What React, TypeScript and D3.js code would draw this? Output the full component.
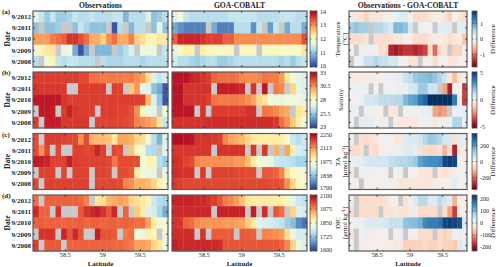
import React from 'react';
import * as d3 from 'd3';

const years = ['9/2012', '9/2011', '9/2010', '9/2009', '9/2008'];
const latCenters = [58.11, 58.18, 58.26, 58.33, 58.41, 58.48, 58.56, 58.63, 58.71, 58.78, 58.86, 58.93, 59.01, 59.08, 59.16, 59.23, 59.31, 59.38, 59.46, 59.53, 59.61, 59.68, 59.76, 59.83];
const latDomain = [58.07, 59.87];
const latTicks = [58.5, 59, 59.5];
const N = null;

const tempObs = [
  [11.7, 11.4, 11.1, 11.4, 11.1, 11.1, 11.2, 11.4, 11.3, 11.3, 11.4, 11.3, 11.3, 11.3, 11.4, 11.4, 10.9, 11.3, 11.3, 11.3, 11.6, 11.0, 11.1, 11.3],
  [11.0, N, 11.0, 11.0, 11.1, N, N, 11.0, 11.4, 11.2, 11.0, 11.0, 11.0, N, 10.2, 11.3, N, 10.9, 11.3, 11.3, N, 11.0, 11.7, 11.0],
  [12.9, 12.9, 12.9, 13.1, 13.2, 13.3, 13.6, 13.6, 13.4, 13.2, 12.8, 12.8, 12.5, 13.0, 13.2, 12.8, 12.8, 13.1, 12.5, 12.4, 12.1, 12.1, 12.3, 12.2],
  [11.8, 12.1, 12.3, 12.3, N, 11.7, 11.8, 10.8, 10.2, 10.8, N, 10.9, 10.9, 10.9, N, 11.1, 11.3, 11.6, N, 11.8, 11.8, 11.8, N, 11.4],
  [11.3, N, 11.8, 12.1, 11.4, 11.3, 11.4, 11.4, 11.3, 11.3, 11.3, N, 11.3, 11.2, 11.2, 11.2, 11.3, 11.3, 11.3, 11.2, 11.3, 11.3, 11.3, 11.3],
];
const tempGoa = [
  [11.6, 11.9, 11.4, 11.3, 11.3, 11.3, 11.3, 11.3, 11.3, 11.3, 11.4, 11.4, 11.4, 11.4, 11.4, 11.3, 11.3, 11.3, 11.3, 11.4, 11.4, 11.4, 11.3, 11.3],
  [10.8, 10.6, 10.5, 10.5, 10.5, 10.5, N, 10.8, 10.5, 10.5, 10.5, 11.3, 11.3, 11.3, 10.6, 11.4, N, 10.7, 11.4, N, 10.8, 11.3, 11.3, 10.8],
  [13.3, 13.7, 13.7, 13.7, 13.7, 13.6, 13.5, 13.5, 13.5, 13.3, 13.3, 13.0, 13.0, 13.0, 13.0, 13.0, 13.0, 13.0, 13.0, 13.0, 13.0, 13.0, 13.0, 13.4],
  [11.7, 12.0, 12.2, 12.1, N, 12.2, 12.0, 12.0, 12.0, 12.0, 12.0, N, 12.0, 12.0, 12.0, N, 12.0, 12.0, 12.0, 12.0, 11.9, 12.0, 11.9, 12.3],
  [11.5, 11.3, 11.3, 11.2, 11.1, 11.2, 11.3, 11.3, 11.1, 11.1, 11.2, 11.3, 11.3, 11.3, 11.3, 11.3, 11.3, 11.3, 11.3, 11.2, 11.3, 11.1, 11.3, 11.4],
];
const tempDiff = [
  [0.1, -0.2, -0.2, -0.4, -0.2, -0.2, -0.2, -0.1, 0.0, 0.1, 0.2, 0.2, 0.0, -0.3, -0.3, -0.3, -0.2, -0.1, -0.1, -0.2, -0.4, 0.0, -0.2, -0.3],
  [0.6, 0.7, 0.6, 0.6, N, 0.5, 0.5, 0.4, 0.3, 0.8, 0.8, 0.7, 0.3, N, 0.1, 0.0, 0.0, N, 0.2, 0.2, 0.2, N, 0.2, 0.2],
  [-0.3, -0.3, -0.3, -0.2, N, -0.3, -0.3, -0.3, -0.3, -0.2, -0.2, 0.0, -0.1, -0.3, -0.3, -0.3, -0.2, -0.1, -0.1, -0.2, -0.3, -0.2, -0.1, -0.5],
  [0.0, N, 0.05, 0.05, 0.05, 0.0, -0.3, -0.3, -1.4, -1.5, -1.4, -1.3, -1.3, -1.4, -1.3, -1.2, -0.3, -1.0, -0.3, -0.2, N, -0.4, -0.4, -0.1],
  [N, 0.0, 0.1, 0.4, 0.4, 0.5, 0.4, 0.4, 0.3, 0.3, 0.0, 0.0, -0.2, -0.2, N, -0.1, 0.0, -0.3, 0.0, 0.0, -0.2, -0.2, 0.0, -0.1],
];

const salObs = [
  [31.8, 31.8, 31.8, 31.8, 31.8, 31.8, 31.8, 31.8, 31.6, 31.6, 31.0, 30.9, 30.8, 30.8, 30.8, 30.8, 30.7, 30.8, 30.5, 30.2, 29.0, 27.0, 26.5, 26.8],
  [32.0, 31.9, 31.9, 31.9, 31.9, 31.9, N, N, 31.8, 31.8, 31.8, 31.8, 31.8, N, 31.8, 31.7, N, 29.5, 30.4, 27.2, 27.0, 25.5, 25.0, 23.5],
  [32.5, 32.5, 32.5, 32.5, 32.5, 32.0, 31.8, 31.8, 31.8, 31.8, 31.8, 31.8, 31.8, 31.8, 31.8, 31.8, 31.8, 31.8, 31.8, 31.7, 29.8, 27.0, 25.5, 23.5],
  [N, 32.5, 32.5, 32.4, N, 31.8, 32.3, 31.9, 31.8, 31.8, 31.8, N, 31.8, 31.8, 31.8, 31.7, 31.7, 31.5, 30.5, 28.2, 27.3, 27.2, N, 27.5],
  [31.8, N, 32.4, 32.4, 32.4, 31.9, 31.9, 31.9, 31.9, 31.9, N, 31.7, 31.7, 31.7, 31.7, 31.7, 31.6, 31.5, 30.7, 30.5, 30.3, 30.0, 28.8, 26.5],
];
const salGoa = [
  [32.6, 32.6, 32.6, 32.3, 32.2, 32.0, 31.8, 31.2, 31.0, 31.0, 31.0, 30.9, 30.6, 30.5, 30.5, 30.6, 30.9, 30.8, 30.8, 30.3, 28.8, 27.6, 27.2, 27.0],
  [32.6, 32.6, 32.0, 32.0, 32.0, 32.0, 32.0, N, 32.4, 32.4, 32.4, 32.3, 32.2, N, 32.0, N, 32.5, N, 30.8, 30.6, N, 29.2, 27.2, 27.0],
  [32.6, 32.6, 32.0, 32.0, 32.0, 32.0, 31.8, 30.9, 30.8, 30.8, 30.8, 30.8, 30.7, 30.5, 30.1, 29.2, 28.8, 27.6, 27.3, 27.3, 27.5, 27.5, 27.5, 27.3],
  [32.5, 32.5, 32.5, 32.5, N, 32.0, N, 31.8, 31.8, 31.8, 31.8, 31.8, 31.8, 32.0, 32.0, N, 30.9, 30.8, 30.6, 30.2, 30.0, N, 28.8, 28.5],
  [32.0, 32.0, 32.0, 32.0, 32.0, 32.0, 32.1, 32.1, 32.1, 32.1, 32.1, 32.1, 32.1, 32.1, 32.1, 32.1, 32.1, 32.1, 31.9, 31.0, 30.4, 29.5, 28.5, 27.5],
];
const salDiff = [
  [-0.4, -0.4, -0.3, -0.4, -0.4, -0.3, 0.0, 0.1, 0.2, 0.3, 0.5, 1.0, 1.2, 1.8, 2.0, 2.1, 2.2, 1.9, 1.5, 1.0, -0.5, -1.5, -0.5, -0.3],
  [0.2, 0.2, 0.2, 0.2, N, 0.0, N, 0.1, 0.1, 0.2, 0.3, 0.3, 0.8, 0.9, 1.8, 1.8, 1.0, 1.0, N, -2.0, -4.0, 0.2, 0.0, -3.5],
  [0.1, 0.1, 0.2, 0.8, 0.8, 0.9, 1.2, 1.3, 1.3, 1.4, 1.4, 2.2, 2.6, 2.8, 3.6, 4.0, 5.0, 5.0, 5.0, 5.0, 5.0, 3.5, 0.2, -3.5],
  [0.3, 0.3, N, 0.2, 0.1, 0.0, -0.2, N, -0.6, -0.6, N, 0.0, 0.1, 0.2, 0.2, 0.3, 0.5, -2.0, -2.2, -2.0, N, 0.3, 0.3, 0.5],
  [0.1, N, 0.5, 0.5, 0.5, 0.2, 0.2, 0.2, N, 0.2, -0.5, -0.5, -0.5, -0.6, 0.0, 0.0, 0.1, -0.5, 0.2, 0.2, 0.2, 1.5, 1.5, 0.3],
];

const taObs = [
  [2170, N, 2185, 2185, 2185, 2180, 2175, 2175, 2110, 2170, 2080, 2070, 2070, 2060, 2010, 2090, 2090, 2080, 2040, 2030, 1950, 1880, 1820, 1920],
  [2170, 2110, 2175, N, 2175, N, N, 2180, 2180, 2175, 2180, 2210, 2180, N, 2175, 2170, N, 2060, 1980, 1950, 1880, 1870, N, 1930],
  [2220, 2215, 2210, 2180, 2180, 2180, 2215, 2185, 2180, 2180, 2180, 2180, 2180, 2175, 2130, 2170, 2170, 2170, 2170, 1960, 1990, 1985, 1880, 1850],
  [N, 2180, 2180, 2180, N, 2175, N, 2180, 2180, 2180, N, 2180, 2180, 2175, N, 2170, 2170, 2160, 2010, 1950, 1940, 1935, N, 1940],
  [2175, N, 2180, 2180, 2180, 2180, 2180, 2180, 2180, 2180, N, 2175, 2175, 2175, 2175, 2170, 2120, 2110, 2080, 2080, 2070, 2040, 1990, 1950],
];
const taGoa = [
  [2235, 2235, 2230, 2225, 2195, 2190, 2195, 2190, 2180, 2120, 2090, 2080, 2070, 2040, 2010, 2005, 2005, 2005, 2005, 2000, 1960, 1900, 1880, 1900],
  [2190, 2190, 2190, 2190, 2190, 2190, 2190, N, 2195, 2195, 2195, 2195, 2195, N, 2190, N, 2190, N, 2080, N, 2090, 2000, 1910, 1900],
  [2200, 2195, 2180, 2170, 2120, 2110, 2110, 2110, 2110, 2110, 2110, 2100, 2100, 2070, 2010, 1960, 1950, 1940, 1900, 1890, 1890, 1880, 1860, 1860],
  [2200, 2195, 2195, 2195, N, 2190, N, 2180, 2180, 2180, 2180, 2175, 2175, 2170, 2170, N, 2160, 2160, 2150, 2120, 2020, 1970, 1960, 1960],
  [2190, 2180, 2175, 2175, 2175, 2175, 2175, 2175, 2175, 2175, 2175, 2175, 2175, 2175, 2175, 2175, 2175, 2170, 2170, 2160, 2110, 2040, 1980, 1960],
];
const taDiff = [
  [-20, N, -50, -60, -50, -40, 0, 10, 0, -40, -40, 40, 50, 50, 60, 100, 130, 120, 100, 60, 50, -50, 40, 30],
  [-60, -60, -50, N, -50, -60, -20, 0, -10, 10, 20, 40, 40, 30, -50, -60, -70, -60, -50, -120, -60, -280, -40, -30],
  [20, 20, 30, 50, 60, 60, 60, 60, 80, 90, 100, 100, 110, 130, 190, 210, 220, 220, 230, 320, 330, 320, 10, 0],
  [-30, N, 0, 10, 10, 0, -10, 0, N, 0, 10, N, 0, -10, -40, -40, -40, N, -40, -50, -40, -10, 0, 10],
  [-10, -10, N, -10, 0, -10, -10, 0, -10, -20, -40, -40, -40, -40, -40, -40, -40, -20, -10, -10, -20, 40, 0, -10],
];

const dicObs = [
  [2000, N, 2010, 2010, 2010, 2010, 2010, 2010, 2005, 1985, N, 1890, 1900, 1940, 1950, 1960, 1950, 1910, 1900, 1880, 1860, 1780, 1760, 1750],
  [2060, 2010, 2010, N, 2050, N, N, N, 2020, 2050, 2060, 2070, 2050, 2020, 2060, N, 2010, N, 1920, 1880, 1800, 1790, 1750, 1700],
  [2010, 2015, 2010, 2010, 2010, 2005, 2010, 2010, 2015, 2005, 2010, 2010, 2005, 2010, 2010, 2005, 2010, 2005, 2000, 2000, 1960, 1880, 1820, 1840],
  [N, 2050, 2050, 2050, N, 2060, 2020, 2060, 2020, N, N, 2070, 2020, 2020, 2015, N, 1990, 2000, 1830, 1820, 1870, 1860, N, 1820],
  [2040, N, 2015, 2015, 2015, N, 2010, 2010, 2010, 2010, 2010, 2010, 2010, 2010, 2005, 2005, 2000, 1990, 1960, 1960, 1950, 1910, 1890, 1820],
];
const dicGoa = [
  [2065, 2065, 2065, 2065, 2060, 2060, 2050, 2040, 2020, 1990, 1980, 1960, 1930, 1890, 1880, 1880, 1880, 1880, 1875, 1870, 1860, 1810, 1780, 1770],
  [2060, 2060, 2060, 2060, 2060, 2060, 2060, N, 2065, 2065, 2065, 2065, 2065, N, 2070, N, 2055, N, 2020, 2000, N, 1910, 1800, 1790],
  [2050, 2045, 2010, 2000, 1975, 1970, 1970, 1970, 1970, 1965, 1965, 1960, 1955, 1920, 1880, 1810, 1800, 1790, 1780, 1770, 1740, 1720, 1670, 1650],
  [2055, 2055, 2055, 2055, N, 2050, N, 2015, 2015, 2015, 2015, N, 2015, 2015, 2010, N, 1985, 1980, 1975, 1965, 1900, 1820, 1790, 1790],
  [2070, 2060, 2060, 2060, 2060, 2060, 2060, 2060, 2055, 2020, 2020, 2020, 2020, 2020, 2020, 2020, 2020, 2020, 2020, 2010, 1980, 1910, 1820, 1800],
];
const dicDiff = [
  [-20, N, -40, -40, -40, -40, -40, -30, -10, 0, N, -30, 10, 30, 60, 60, 30, 30, 60, 40, 30, -80, -10, -10],
  [-40, N, -40, -40, -40, -40, N, -30, -30, -20, -30, -30, -20, 20, -40, -40, -40, -40, N, -40, -90, -160, -20, -10],
  [0, 5, 10, 30, 30, 30, 30, 35, 50, 50, 50, 90, 95, 100, 110, 150, 160, 160, 170, 210, 215, 210, 200, 30],
  [-30, N, 0, 10, 0, -10, 0, 0, N, 0, 10, N, 0, -10, -40, -40, -40, N, -40, -50, -40, 0, 10, 0],
  [0, N, -10, -10, 0, -10, 0, -10, -10, -20, -20, -50, -50, -50, -50, -40, -50, -50, -40, -50, -50, -60, 30, 20],
];

const panelLetters = ['(a)', '(b)', '(c)', '(d)'];
const colTitles = ['Observations', 'GOA-COBALT', 'Observations - GOA-COBALT'];
const varLabels = [['Temperature', '[°C]'], ['Salinity'], ['TA', '[μmol kg⁻¹]'], ['DIC', '[μmol kg⁻¹]']];
const cbDomains = [[10, 14], [23, 33], [1700, 2250], [1600, 2100]];
const cbTicks = [[10, 11, 12, 13, 14], [23, 25.5, 28, 30.5, 33], [1700, 1837.5, 1975, 2112.5, 2250], [1600, 1725, 1850, 1975, 2100]];
const diffDomains = [[-1.8, 1.8], [-5, 5], [-350, 350], [-230, 230]];
const diffTicks = [[-1, 0, 1], [-5, 0, 5], [-200, 0, 200], [-200, -100, 0, 100, 200]];

const obsSets = [tempObs, salObs, taObs, dicObs];
const goaSets = [tempGoa, salGoa, taGoa, dicGoa];
const diffSets = [tempDiff, salDiff, taDiff, dicDiff];

const W = 500, H = 267;
const OBS = [33, 168], GOA = [172, 307], DIFF = [349, 467];
const CB = { x: 310, w: 7 }, DCB = { x: 472, w: 5 };
const TOPS = [11, 72, 133.5, 195];
const PH = 56;
const FONT = "'Liberation Serif', 'Times New Roman', serif";
const GRAY = '#c9c9c9';
const FRAME = '#5a5a5a';

function fmt(v: number) {
  return Math.abs(v) >= 100 ? String(Math.round(v)) : String(v);
}

function Heat({ x0, x1, top, data, color, showLat, showDates }: any) {
  const xb = d3.scaleBand<string>().domain(latCenters.map(String)).range([x0, x1]);
  const yb = d3.scaleBand<string>().domain(years).range([top, top + PH]);
  const xl = d3.scaleLinear().domain(latDomain).range([x0, x1]);
  const cells: any[] = [];
  data.forEach((row: (number | null)[], i: number) => {
    row.forEach((v, j) => {
      cells.push(
        <rect key={`${i}-${j}`} x={xb(String(latCenters[j]))} y={yb(years[i])}
          width={xb.bandwidth() + 0.35} height={yb.bandwidth() + 0.35}
          fill={v == null ? GRAY : color(v)} />
      );
    });
  });
  return (
    <g>
      {cells}
      <rect x={x0} y={top} width={x1 - x0} height={PH} fill="none" stroke={FRAME} strokeWidth={1.2} />
      {latTicks.map(t => (
        <g key={t}>
          <line x1={xl(t)} x2={xl(t)} y1={top} y2={top + 2} stroke="#333" strokeWidth={0.8} />
          <line x1={xl(t)} x2={xl(t)} y1={top + PH} y2={top + PH - 2} stroke="#333" strokeWidth={0.8} />
          {showLat && (
            <text x={xl(t)} y={top + PH + 6.2} textAnchor="middle" fontSize={6.3} fontFamily={FONT} fill="#222">{t}</text>
          )}
        </g>
      ))}
      {years.map(y => {
        const cy = (yb(y) as number) + yb.bandwidth() / 2;
        return (
          <g key={y}>
            <line x1={x0} x2={x0 + 2} y1={cy} y2={cy} stroke="#333" strokeWidth={0.8} />
            <line x1={x1} x2={x1 - 2} y1={cy} y2={cy} stroke="#333" strokeWidth={0.8} />
            {showDates && (
              <text x={x0 - 2} y={cy + 2.4} textAnchor="end" fontSize={7} fontWeight="bold" fontFamily={FONT} fill="#222">{y}</text>
            )}
          </g>
        );
      })}
    </g>
  );
}

function ColorBar({ id, x, w, top, domain, ticks, interp }: any) {
  const ys = d3.scaleLinear().domain(domain).range([top + PH, top]);
  const stops = d3.range(0, 1.0001, 0.05);
  return (
    <g>
      <defs>
        <linearGradient id={id} x1="0" y1="1" x2="0" y2="0">
          {stops.map(s => <stop key={s} offset={s} stopColor={interp(s)} />)}
        </linearGradient>
      </defs>
      <rect x={x} y={top} width={w} height={PH} fill={`url(#${id})`} stroke={FRAME} strokeWidth={0.8} />
      {ticks.map((t: number) => {
        const yy = ys(t);
        const nudge = yy <= top + 0.5 ? 1.2 : yy >= top + PH - 0.5 ? -1.2 : 0;
        return (
          <g key={t}>
            <line x1={x} x2={x + 1.5} y1={yy} y2={yy} stroke="#333" strokeWidth={0.6} />
            <line x1={x + w} x2={x + w - 1.5} y1={yy} y2={yy} stroke="#333" strokeWidth={0.6} />
            <text x={x + w + 3} y={yy + 2.1 + nudge} fontSize={6} fontFamily={FONT} fill="#222">{fmt(t)}</text>
          </g>
        );
      })}
    </g>
  );
}

export default function App() {
  const mainInterp = (t: number) => d3.interpolateRdYlBu(1 - t);
  const diffInterp = (t: number) => d3.interpolateRdBu(t);
  return (
    <svg width={W} height={H} style={{ position: 'absolute', left: 0, top: 0, background: '#fff' }}>
      <rect width={W} height={H} fill="#fff" />
      {colTitles.map((t, i) => {
        const r = [OBS, GOA, DIFF][i];
        return (
          <text key={t} x={(r[0] + r[1]) / 2} y={8} textAnchor="middle" fontSize={7.6} fontWeight="bold" fontFamily={FONT} fill="#222">{t}</text>
        );
      })}
      {TOPS.map((top, k) => {
        const main = d3.scaleSequential(mainInterp).domain(cbDomains[k] as [number, number]).clamp(true);
        const diff = d3.scaleSequential(diffInterp).domain(diffDomains[k] as [number, number]).clamp(true);
        const last = k === TOPS.length - 1;
        const cy = top + PH / 2;
        const lab = varLabels[k];
        return (
          <g key={k}>
            <text x={2} y={top + 3} fontSize={7} fontWeight="bold" fontFamily={FONT} fill="#222">{panelLetters[k]}</text>
            <text transform={`translate(10,${cy}) rotate(-90)`} textAnchor="middle" fontSize={7.5} fontWeight="bold" fontFamily={FONT} fill="#222">Date</text>
            <Heat x0={OBS[0]} x1={OBS[1]} top={top} data={obsSets[k]} color={main} showLat={last} showDates />
            <Heat x0={GOA[0]} x1={GOA[1]} top={top} data={goaSets[k]} color={main} showLat={last} />
            <Heat x0={DIFF[0]} x1={DIFF[1]} top={top} data={diffSets[k]} color={diff} showLat={last} />
            <ColorBar id={`cb${k}`} x={CB.x} w={CB.w} top={top} domain={cbDomains[k]} ticks={cbTicks[k]} interp={mainInterp} />
            <ColorBar id={`dcb${k}`} x={DCB.x} w={DCB.w} top={top} domain={diffDomains[k]} ticks={diffTicks[k]} interp={diffInterp} />
            {lab.length === 1 ? (
              <text transform={`translate(343,${cy}) rotate(-90)`} textAnchor="middle" fontSize={7} fontFamily={FONT} fill="#222">{lab[0]}</text>
            ) : (
              <g>
                <text transform={`translate(340,${cy}) rotate(-90)`} textAnchor="middle" fontSize={7} fontFamily={FONT} fill="#222">{lab[0]}</text>
                <text transform={`translate(347,${cy}) rotate(-90)`} textAnchor="middle" fontSize={7} fontFamily={FONT} fill="#222">{lab[1]}</text>
              </g>
            )}
            <text transform={`translate(495,${cy}) rotate(-90)`} textAnchor="middle" fontSize={7} fontFamily={FONT} fill="#222">Difference</text>
          </g>
        );
      })}
      {[OBS, GOA, DIFF].map((r, i) => (
        <text key={i} x={(r[0] + r[1]) / 2} y={265.5} textAnchor="middle" fontSize={7} fontWeight="bold" fontFamily={FONT} fill="#222">Latitude</text>
      ))}
    </svg>
  );
}
